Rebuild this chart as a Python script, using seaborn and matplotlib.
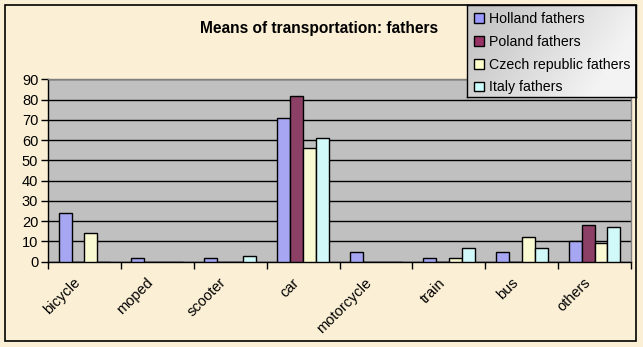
import numpy as np
import pandas as pd
import matplotlib
matplotlib.use("Agg")
import matplotlib.pyplot as plt
from matplotlib.ticker import MultipleLocator, FixedLocator
from matplotlib.patches import Rectangle
from matplotlib.transforms import ScaledTranslation
import seaborn as sns

categories = ["bicycle", "moped", "scooter", "car", "motorcycle", "train", "bus", "others"]
series_names = ["Holland fathers", "Poland fathers", "Czech republic fathers", "Italy fathers"]
holland = [24, 2, 2, 71, 5, 2, 5, 10]
poland = [0, 0, 0, 82, 0, 0, 0, 18]
czech = [14, 0, 0, 56, 0, 2, 12, 9]
italy = [0, 0, 3, 61, 0, 7, 7, 17]
colors = ["#9999FF", "#993366", "#FFFFCC", "#CCFFFF"]

df = pd.DataFrame({
    "category": categories * 4,
    "series": np.repeat(series_names, len(categories)),
    "value": holland + poland + czech + italy,
})

sns.set_theme(style="white")
plt.rcParams["font.family"] = ["Liberation Sans", "DejaVu Sans"]

W, H = 643, 347
fig = plt.figure(figsize=(W / 100, H / 100), dpi=100)
bg = "#FBEFD5"
fig.patch.set_facecolor(bg)

# outer chart border
fig.add_artist(Rectangle((5 / W, 1 - 341 / H), 631 / W, 336 / H, transform=fig.transFigure,
                         fill=False, edgecolor="black", linewidth=1.2, zorder=10))

ax = fig.add_axes([48 / W, 1 - 261.7 / H, 583 / W, 182.4 / H])
ax.set_facecolor("#C0C0C0")

sns.barplot(data=df, x="category", y="value", hue="series", palette=colors,
            width=0.71, edgecolor="black", linewidth=1, ax=ax, legend=False,
            order=categories, hue_order=series_names, zorder=3)

ax.set_xlim(-0.5, len(categories) - 0.5)
ax.set_ylim(0, 90)
ax.yaxis.set_major_locator(MultipleLocator(10))
ax.grid(axis="y", color="black", linewidth=1, zorder=1)
ax.set_axisbelow(True)
ax.set_xlabel("")
ax.set_ylabel("")

for side in ["top", "right"]:
    ax.spines[side].set_color("#808080")
    ax.spines[side].set_linewidth(1)
for side in ["left", "bottom"]:
    ax.spines[side].set_color("black")
    ax.spines[side].set_linewidth(1)

ax.tick_params(axis="y", direction="out", length=5, width=1, color="black",
               left=True, labelsize=10.5, pad=2, labelcolor="black")
ax.xaxis.set_minor_locator(FixedLocator(np.arange(-0.5, len(categories), 1.0)))
ax.tick_params(axis="x", which="minor", direction="out", length=5, width=1,
               color="black", bottom=True)
ax.tick_params(axis="x", which="major", length=0, pad=10, labelsize=10.5)
shift = ScaledTranslation(-11 / 100, 0, fig.dpi_scale_trans)
for lbl in ax.get_xticklabels():
    lbl.set_rotation(45)
    lbl.set_rotation_mode("anchor")
    lbl.set_ha("right")
    lbl.set_va("top")
    lbl.set_color("black")
    lbl.set_transform(lbl.get_transform() + shift)

fig.text(319 / W, 1 - 28 / H, "Means of transportation: fathers", ha="center", va="center",
         fontsize=11.2, fontweight="bold", color="black")

# legend panel with a light diagonal gradient
lx0, lx1, ly0, ly1 = 467, 636, 5, 97
lax = fig.add_axes([lx0 / W, 1 - ly1 / H, (lx1 - lx0) / W, (ly1 - ly0) / H])
gx, gy = np.meshgrid(np.linspace(0, 1, 200), np.linspace(0, 1, 100))
grad = 0.78 + 0.17 * np.clip(gx * 1.1 + gy * 0.4 - 0.2, 0, 1)
lax.imshow(grad, cmap="gray", vmin=0, vmax=1, aspect="auto", extent=[0, 1, 0, 1])
lax.set_xticks([])
lax.set_yticks([])
for s in lax.spines.values():
    s.set_color("black")
    s.set_linewidth(1)

handles = [Rectangle((0, 0), 1, 1, facecolor=c, edgecolor="black", linewidth=1) for c in colors]
leg = fig.legend(handles, series_names, loc="upper left",
                 bbox_to_anchor=(lx0 / W, 1 - ly0 / H), frameon=False,
                 fontsize=10.2, handlelength=0.7, handleheight=0.7, handletextpad=0.35,
                 labelspacing=0.62, borderaxespad=0, borderpad=0.5)
for t in leg.get_texts():
    t.set_color("black")

fig.savefig("out.png", dpi=100, facecolor=bg)
